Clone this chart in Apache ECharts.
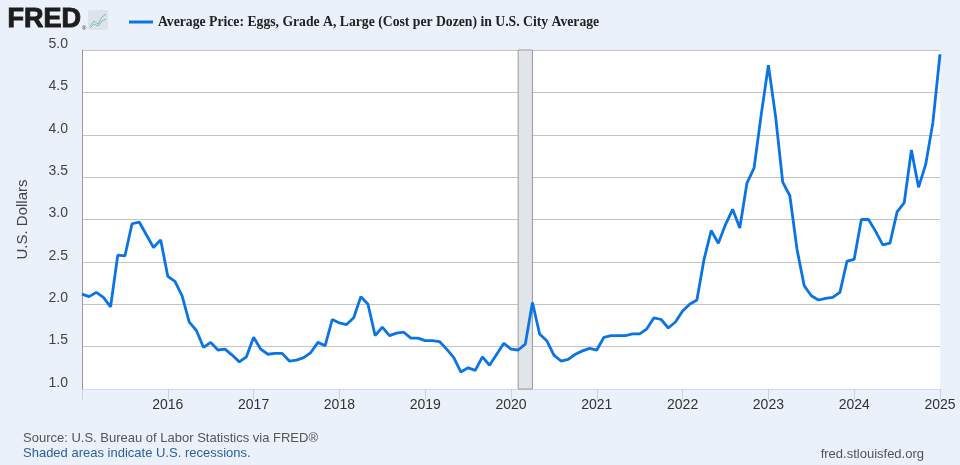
<!DOCTYPE html>
<html>
<head>
<meta charset="utf-8">
<script src="https://cdn.jsdelivr.net/npm/echarts@6/dist/echarts.min.js"></script>
<style>
  html, body { margin: 0; padding: 0; background: #eaf1fa; }
  #chart { width: 960px; height: 465px; }
</style>
</head>
<body>
<div id="chart"></div>
<script>
// monthly average price, Jan 2015 .. Jan 2025
const years = ['2015', '2016', '2017', '2018', '2019', '2020', '2021', '2022', '2023', '2024', '2025'];
const y2015 = [2.12, 2.09, 2.14, 2.08, 1.97, 2.58, 2.57, 2.95, 2.97, 2.82, 2.67, 2.76];
const y2016 = [2.33, 2.27, 2.10, 1.79, 1.69, 1.49, 1.55, 1.46, 1.47, 1.40, 1.32, 1.38];
const y2017 = [1.61, 1.47, 1.41, 1.42, 1.42, 1.33, 1.34, 1.37, 1.43, 1.55, 1.51, 1.82];
const y2018 = [1.78, 1.76, 1.84, 2.09, 2.00, 1.63, 1.73, 1.63, 1.66, 1.67, 1.60, 1.60];
const y2019 = [1.57, 1.57, 1.56, 1.47, 1.37, 1.20, 1.25, 1.22, 1.38, 1.28, 1.41, 1.54];
const y2020 = [1.47, 1.46, 1.53, 2.02, 1.65, 1.57, 1.40, 1.33, 1.35, 1.41, 1.45, 1.48];
const y2021 = [1.46, 1.61, 1.63, 1.63, 1.63, 1.65, 1.65, 1.71, 1.84, 1.82, 1.72, 1.79];
const y2022 = [1.92, 2.00, 2.05, 2.53, 2.87, 2.72, 2.94, 3.12, 2.90, 3.43, 3.61, 4.24];
const y2023 = [4.82, 4.22, 3.44, 3.28, 2.65, 2.22, 2.10, 2.05, 2.07, 2.08, 2.14, 2.51];
const y2024 = [2.53, 3.00, 3.00, 2.86, 2.70, 2.72, 3.09, 3.20, 3.82, 3.38, 3.65, 4.14];
const y2025 = [4.95];
const recession = ['2020-02', '2020-04'];
const seriesName = 'Average Price: Eggs, Grade A, Large (Cost per Dozen) in U.S. City Average';

const yearly = [y2015, y2016, y2017, y2018, y2019, y2020, y2021, y2022, y2023, y2024, y2025];
const months = [];
const prices = [];
yearly.forEach((vals, yi) => {
    vals.forEach((v, mi) => {
        months.push(years[yi] + '-' + String(mi + 1).padStart(2, '0'));
        prices.push(v);
    });
});

const chart = echarts.init(document.getElementById('chart'));
const sans = 'Liberation Sans, Arial, sans-serif';

const option = {
    backgroundColor: '#eaf1fa',
    animation: false,
    grid: { left: 82, right: 20, top: 50, bottom: 76, show: true, backgroundColor: '#ffffff', borderWidth: 0 },
    legend: {
        left: 124, top: 10,
        icon: 'rect', itemWidth: 24, itemHeight: 3, itemGap: 6,
        textStyle: { fontFamily: 'Liberation Serif, Times New Roman, serif', fontWeight: 'bold', fontSize: 13.7, color: '#222' },
        data: [seriesName]
    },
    graphic: [
        // FRED logo
        { type: 'text', left: 7, top: 6, style: { text: 'FRED', font: 'bold 27px ' + sans, fill: '#1d1d1d', stroke: '#1d1d1d', lineWidth: 1 } },
        { type: 'text', left: 82, top: 25, style: { text: '®', font: '6px ' + sans, fill: '#1d1d1d' } },
        { type: 'rect', shape: { x: 88, y: 10, width: 20, height: 20, r: 2 }, style: { fill: '#dde3ea' } },
        { type: 'polyline', shape: { points: [[90, 26], [94, 21], [98, 24], [102, 17], [106, 14]] }, style: { stroke: '#7fb3e0', lineWidth: 1, fill: null } },
        { type: 'polyline', shape: { points: [[90, 28], [94, 24], [98, 26], [102, 21], [106, 19]] }, style: { stroke: '#8cc07a', lineWidth: 1, fill: null } },
        // footer
        { type: 'text', left: 23, top: 432, style: { text: 'Source: U.S. Bureau of Labor Statistics via FRED®', font: '13px ' + sans, fill: '#555' } },
        { type: 'text', left: 23, top: 447, style: { text: 'Shaded areas indicate U.S. recessions.', font: '13px ' + sans, fill: '#2f5f9f' } },
        { type: 'text', right: 36, top: 448, style: { text: 'fred.stlouisfed.org', font: '13px ' + sans, fill: '#555' } }
    ],
    xAxis: {
        type: 'category',
        data: months,
        boundaryGap: false,
        axisLine: { lineStyle: { color: '#d3dbe5' } },
        axisTick: {
            show: true, length: 11,
            interval: (idx) => idx % 12 === 0,
            lineStyle: { color: '#c9d4e2' }
        },
        axisLabel: {
            interval: (idx) => idx % 12 === 0 && idx > 0,
            formatter: (v) => v.slice(0, 4),
            margin: 9,
            color: '#333', fontSize: 14, fontFamily: sans
        },
        splitLine: { show: false }
    },
    yAxis: {
        type: 'value',
        min: 1, max: 5, interval: 0.5,
        name: 'U.S. Dollars',
        nameLocation: 'middle',
        nameGap: 52,
        nameTextStyle: { color: '#444', fontSize: 15, fontFamily: sans },
        axisLine: { show: true, lineStyle: { color: '#999' } },
        axisTick: { show: false },
        axisLabel: {
            formatter: (v) => v.toFixed(1),
            color: '#444', fontSize: 14, fontFamily: sans,
            margin: 14, verticalAlign: 'bottom', lineHeight: 12
        },
        splitLine: { lineStyle: { color: '#c4c4c4', width: 1 } }
    },
    series: [{
        name: seriesName,
        type: 'line',
        data: prices,
        showSymbol: false,
        symbol: 'none',
        color: '#0a74e4',
        lineStyle: { width: 2.8, color: '#0a74e4' },
        markArea: {
            silent: true,
            itemStyle: { color: '#e1e5ea', borderColor: '#9a9a9a', borderWidth: 1 },
            data: [[{ xAxis: recession[0] }, { xAxis: recession[1] }]]
        }
    }]
};

chart.setOption(option);
window.addEventListener('resize', function () {
    chart.resize();
});
</script>
</body>
</html>
